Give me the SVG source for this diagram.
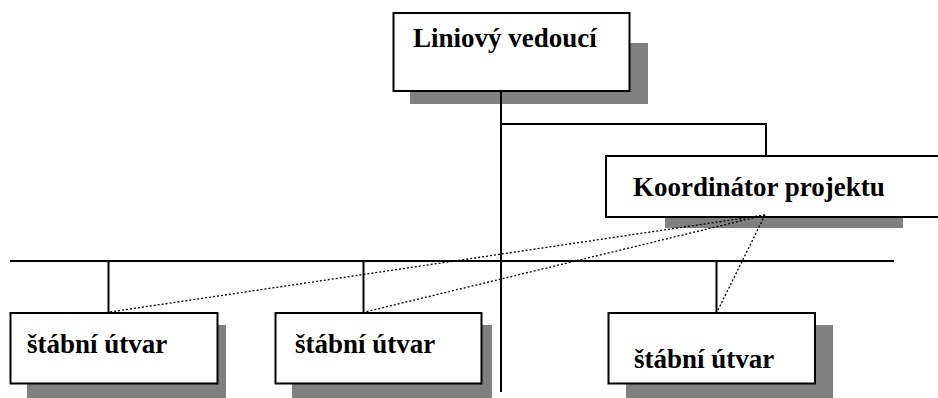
<svg xmlns="http://www.w3.org/2000/svg" width="938" height="398" viewBox="0 0 938 398">
<style>
.box{fill:#fff;stroke:#000;stroke-width:2}
.sh{fill:#808080}
.ln{stroke:#000;stroke-width:2;fill:none}
.dot{stroke:#000;stroke-width:1.3;stroke-dasharray:2 2;fill:none}
text{font-family:"Liberation Serif","Times New Roman",serif;font-weight:bold;font-size:27px;fill:#000}
</style>
<rect width="938" height="398" fill="#fff"/>
<g id="liniovy">
<rect class="sh" x="410" y="43" width="238" height="61"/>
<rect class="box" x="393.5" y="13" width="236" height="78"/>
<text x="413" y="47">Liniový vedoucí</text>
</g>
<g id="koordinator">
<rect class="sh" x="665" y="217" width="238" height="11"/>
<rect class="box" x="606" y="156" width="340" height="61"/>
<text x="633" y="196">Koordinátor projektu</text>
</g>
<g id="utvar1">
<rect class="sh" x="27" y="325" width="199" height="73"/>
<rect class="box" x="10.5" y="313" width="207" height="70.5"/>
<text x="27" y="353">štábní útvar</text>
</g>
<g id="utvar2">
<rect class="sh" x="292" y="325" width="200" height="73"/>
<rect class="box" x="275.5" y="313" width="206" height="70.5"/>
<text x="295" y="353">štábní útvar</text>
</g>
<g id="utvar3">
<rect class="sh" x="626" y="325" width="207" height="73"/>
<rect class="box" x="608.5" y="313" width="206.5" height="70.5"/>
<text x="634" y="368">štábní útvar</text>
</g>
<g id="connectors">
<line class="ln" x1="501" y1="91" x2="501" y2="392"/>
<polyline class="ln" points="501,124 766,124 766,156"/>
<line class="ln" x1="10" y1="261" x2="894" y2="261"/>
<line class="ln" x1="108.5" y1="261" x2="108.5" y2="313"/>
<line class="ln" x1="363.5" y1="261" x2="363.5" y2="313"/>
<line class="ln" x1="716.5" y1="261" x2="716.5" y2="313"/>
<line class="dot" x1="765" y1="215" x2="110" y2="312"/>
<line class="dot" x1="765" y1="215" x2="365" y2="312"/>
<line class="dot" x1="765" y1="215" x2="717" y2="312"/>
</g>
</svg>
